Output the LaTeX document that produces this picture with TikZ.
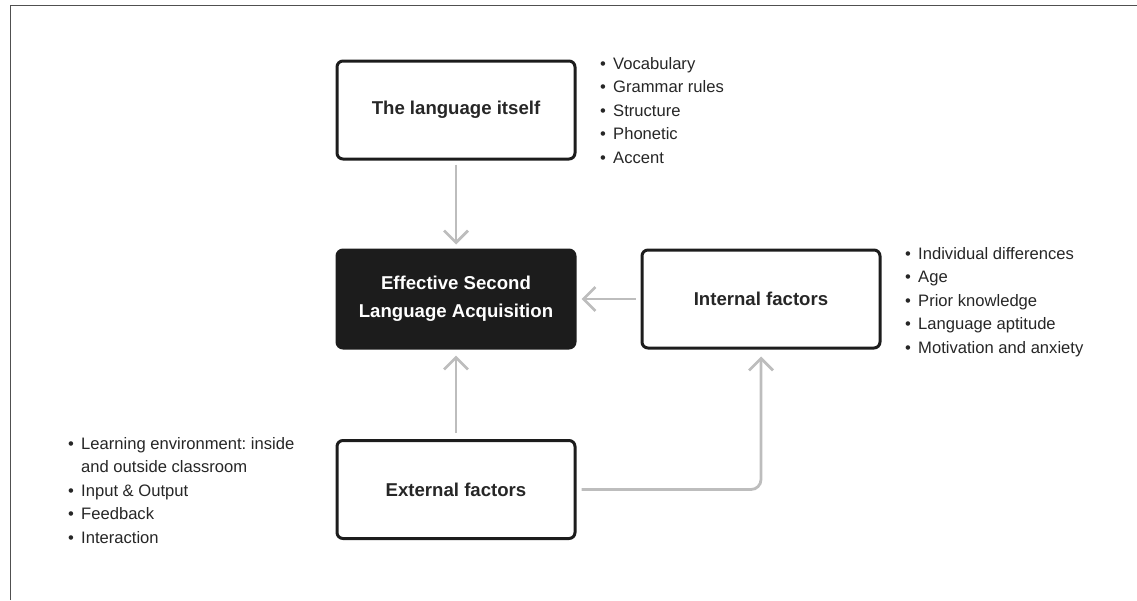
\documentclass[tikz,border=0pt]{standalone}
\usepackage{fontspec}
\setmainfont{Liberation Sans}
\usetikzlibrary{arrows.meta}
\definecolor{boxline}{HTML}{1C1C1C}
\definecolor{boxtext}{HTML}{262626}
\definecolor{arrowgray}{HTML}{BDBDBD}
\definecolor{framegray}{HTML}{505050}
\frenchspacing

\begin{document}
\begin{tikzpicture}[x=1pt, y=-1pt,
    factor/.style ={draw=boxline, line width=3pt, rounded corners=6pt,
      minimum width=238pt, minimum height=98pt, inner sep=0pt, align=center,
      text=boxtext, font=\bfseries\fontsize{18.6}{28}\selectfont},
    goal/.style ={factor, fill=boxline, text=white},
    points/.style ={anchor=base west, inner sep=0pt, text=boxtext,
      font=\fontsize{16.6}{23.5}\selectfont},
    link/.style ={draw=arrowgray, line width=2.8pt,
      -{Straight Barb[length=12pt, width=24pt]}}]
   \useasboundingbox (0,0) rectangle (1137,600);
   \draw[framegray, line width=1.2pt] (10.3,600) |- (1137,5.7);
   \node[factor] (T) at (456,110) {The language itself};
   \node[goal] (S) at (456,299) {Effective Second\\Language Acquisition};
   \node[factor] (I) at (761,299) {Internal factors};
   \node[factor] (X) at (456,489.5) {External factors};
   \node[points] (Tl) at (600,69) {\begin{tabular}[t]{@{}p{13pt}@{}l@{}}
     \textbullet & Vocabulary\\ \textbullet & Grammar rules\\
     \textbullet & Structure\\ \textbullet & Phonetic\\
     \textbullet & Accent\end{tabular}};
   \node[points] (Il) at (905,259) {\begin{tabular}[t]{@{}p{13pt}@{}l@{}}
     \textbullet & Individual differences\\ \textbullet & Age\\
     \textbullet & Prior knowledge\\ \textbullet & Language aptitude\\
     \textbullet & Motivation and anxiety\end{tabular}};
   \node[points] (Xl) at (68,449) {\begin{tabular}[t]{@{}p{13pt}@{}l@{}}
     \textbullet & Learning environment: inside\\ & and outside classroom\\
     \textbullet & Input \& Output\\ \textbullet & Feedback\\
     \textbullet & Interaction\end{tabular}};
   \draw[link, shorten <=4pt, shorten >=4pt] (T) to (S);
   \draw[link, shorten <=5pt, shorten >=5pt] (I) to (S);
   \draw[link, shorten <=6pt, shorten >=6pt] (X) to (S);
   \draw[link, rounded corners=10pt, shorten <=5pt, shorten >=7pt] (X.east) -| (I.south);
 \end{tikzpicture}
\end{document}
